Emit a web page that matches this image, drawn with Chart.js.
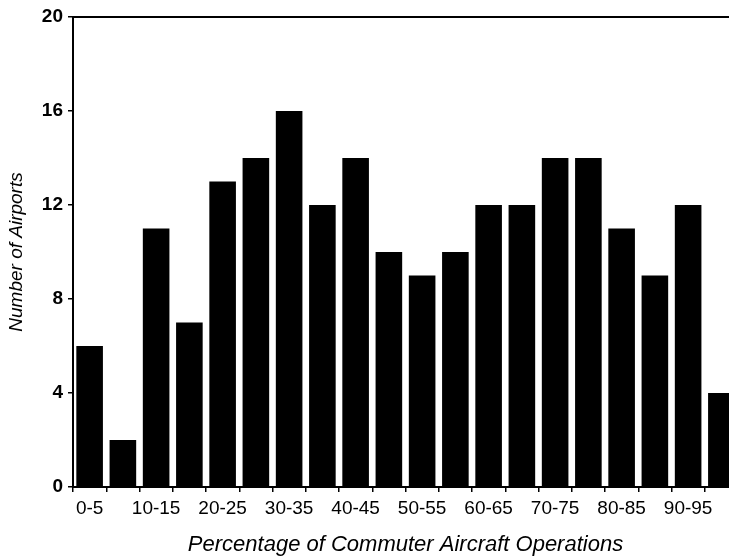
<!DOCTYPE html>
<html>
<head>
<meta charset="utf-8">
<script src="https://cdn.jsdelivr.net/npm/chart.js@4/dist/chart.umd.min.js"></script>
<style>
  html, body { margin: 0; padding: 0; background: #fff; overflow: hidden; }
  #clip { width: 729px; height: 560px; overflow: hidden; position: relative; }
  #wrap { width: 740px; height: 560px; position: absolute; left: 0; top: 0; }
</style>
</head>
<body>
<div id="clip"><div id="wrap"><canvas id="c"></canvas></div></div>
<script>
const categories = ["0-5","5-10","10-15","15-20","20-25","25-30","30-35","35-40","40-45","45-50",
                    "50-55","55-60","60-65","65-70","70-75","75-80","80-85","85-90","90-95","95-100"];
const airports = [6, 2, 11, 7, 13, 14, 16, 12, 14, 10, 9, 10, 12, 12, 14, 14, 11, 9, 12, 4];
const yTicks = [0, 4, 8, 12, 16, 20];
const xTitle = "Percentage of Commuter Aircraft Operations";
const yTitle = "Number of Airports";

const FONT = "'Liberation Sans', Arial, Helvetica, sans-serif";

new Chart(document.getElementById('c'), {
  type: 'bar',
  data: {
    labels: categories,
    datasets: [{
      data: airports,
      backgroundColor: '#000',
      borderWidth: 0,
      barPercentage: 0.8,
      categoryPercentage: 1.0
    }]
  },
  options: {
    responsive: true,
    maintainAspectRatio: false,
    animation: false,
    layout: { padding: { left: 0, right: 2, top: 0, bottom: 0 } },
    plugins: { legend: { display: false }, tooltip: { enabled: false } },
    scales: {
      x: {
        position: 'bottom',
        offset: true,
        grid: { display: true, offset: true, drawOnChartArea: false, drawTicks: true, tickLength: 5, color: '#000', lineWidth: 1.5 },
        border: { display: true, color: '#000', width: 2 },
        ticks: {
          autoSkip: false,
          maxRotation: 0,
          minRotation: 0,
          padding: 5,
          color: '#000',
          font: { family: FONT, size: 19 },
          callback: function(v, i) { return i % 2 === 0 ? categories[i] : ''; }
        },
        title: { display: true, text: xTitle, color: '#000', font: { family: FONT, size: 22, style: 'italic' }, padding: { top: 10, bottom: 2 } },
        afterFit: function(s) { s.height = 73; }
      },
      xTop: {
        position: 'top',
        type: 'category',
        labels: categories,
        grid: { display: false },
        border: { display: true, color: '#000', width: 2 },
        ticks: { display: false },
        afterFit: function(s) { s.height = 17; }
      },
      y: {
        min: 0,
        max: 20,
        afterBuildTicks: function(s) { s.ticks = yTicks.map(v => ({ value: v })); },
        grid: { display: true, drawOnChartArea: false, drawTicks: true, tickLength: 5, color: '#000', lineWidth: 1.5 },
        border: { display: true, color: '#000', width: 2 },
        ticks: { color: '#000', padding: 5, font: { family: FONT, size: 19, weight: 'bold' } },
        title: { display: true, text: yTitle, color: '#000', font: { family: FONT, size: 19, style: 'italic' }, padding: { top: 5, bottom: 12 } },
        afterFit: function(s) { s.width = 73; }
      }
    }
  }
});
</script>
</body>
</html>
